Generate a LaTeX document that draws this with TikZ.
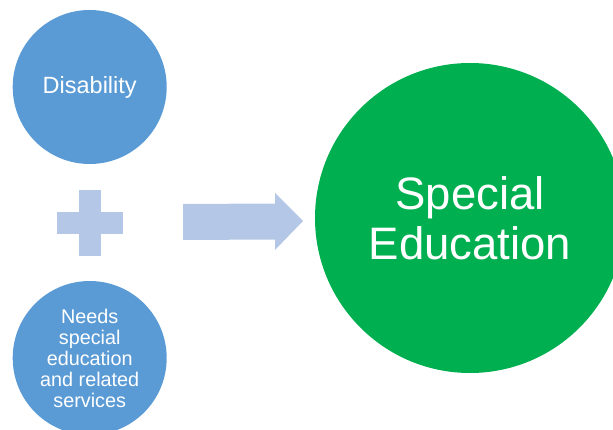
\documentclass[tikz,border=0pt]{standalone}
\usepackage{fontspec}
\setmainfont{Liberation Sans}
\usepackage{tikz}
\usetikzlibrary{positioning}
\definecolor{circblue}{HTML}{5B9BD5}
\definecolor{lightblue}{HTML}{B4C7E7}
\definecolor{bigGreen}{HTML}{00B050}
\tikzstyle{smallcirc} = [circle, minimum size=154pt, inner sep=0pt, fill=circblue, text=white, align=center]
\tikzstyle{bigcirc} = [circle, minimum size=310pt, inner sep=0pt, fill=bigGreen, text=white, align=center]
\tikzstyle{lightshape} = [fill=lightblue, draw=none]

\begin{document}
\begin{tikzpicture}[x=1pt, y=-1pt]
\useasboundingbox (0,0) rectangle (613,430);
\clip (0,0) rectangle (613,430);
\node (disability) [smallcirc, font=\fontsize{23.5}{27}\selectfont] at (89.7,87) {Disability};
\node (needs) [smallcirc, font=\fontsize{19.8}{21}\selectfont] at (89.7,358) {Needs\\special\\education\\and related\\services};
\node (special) [bigcirc, font=\fontsize{45.5}{50}\selectfont] at (470,218) {Special\\Education};

% plus sign
\coordinate (plus) at (90,223);
\fill [lightshape] ([xshift=-11pt, yshift=33pt]plus) rectangle ([xshift=10.5pt, yshift=-33pt]plus);
\fill [lightshape] ([xshift=-33pt, yshift=11pt]plus) rectangle ([xshift=33pt, yshift=-11pt]plus);

% block arrow
\coordinate (tip) at (303,221);
\fill [lightshape] (183,204) -- (275,203.5) -- (275,193) -- (tip) -- (275,250) -- (275,239.5) -- (183,240) -- cycle;
\end{tikzpicture}
\end{document}
